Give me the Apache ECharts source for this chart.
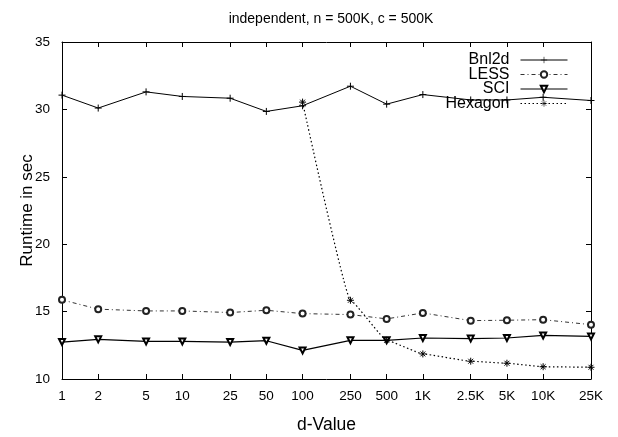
<!DOCTYPE html>
<html><head><meta charset="utf-8">
<script src="https://cdn.jsdelivr.net/npm/echarts@6/dist/echarts.min.js"></script>
<style>html,body{margin:0;padding:0;background:#fff}#c{width:618px;height:437px}</style>
</head><body><div id="c"></div>
<script>
const titleText = 'independent, n = 500K, c = 500K';
const xName = 'd-Value';
const yName = 'Runtime in sec';
const dValues = [1, 2, 5, 10, 25, 50, 100, 250, 500, 1000, 2500, 5000, 10000, 25000];
const dLabels = ['1', '2', '5', '10', '25', '50', '100', '250', '500', '1K', '2.5K', '5K', '10K', '25K'];
const seriesNames = ['Bnl2d', 'LESS', 'SCI', 'Hexagon'];
const bnl2d = [31.06, 30.10, 31.30, 30.96, 30.83, 29.85, 30.27, 31.72, 30.39, 31.10, 30.70, 30.70, 30.90, 30.66];
const less = [15.87, 15.18, 15.05, 15.05, 14.93, 15.10, 14.85, 14.78, 14.46, 14.90, 14.33, 14.36, 14.40, 14.03];
const sci = [12.74, 12.94, 12.79, 12.79, 12.74, 12.84, 12.12, 12.87, 12.87, 13.04, 13.00, 13.04, 13.23, 13.16];
const hexagon = [null, null, null, null, null, null, 30.54, 15.84, 12.87, 11.86, 11.32, 11.17, 10.91, 10.87];

function pairs(vals) {
  const out = [];
  dValues.forEach((d, i) => { if (vals[i] != null) out.push([d, vals[i]]); });
  return out;
}
const FONT = 'Liberation Sans';
const labelMap = {};
dValues.forEach((d, i) => { labelMap[d] = dLabels[i]; });
const PLUS = 'path://M0,5L10,5M5,0L5,10';
const STAR = 'path://M0,5L10,5M5,0L5,10M1.5,1.5L8.5,8.5M8.5,1.5L1.5,8.5';

function xAxisCfg(pos, show) {
  return {
    type: 'log', logBase: 10, min: 1, max: 25000, position: pos,
    name: show ? xName : '', nameLocation: 'middle', nameGap: 37, nameMoveOverlap: false,
    nameTextStyle: { fontFamily: FONT, fontSize: 17.5, color: '#000' },
    axisLine: { show: true, onZero: false, lineStyle: { color: '#000', width: 1 } },
    axisTick: { show: true, inside: true, length: 5, customValues: dValues, lineStyle: { color: '#000', width: 1 } },
    axisLabel: { show: show, customValues: dValues, formatter: v => labelMap[Math.round(v)] || '',
      fontFamily: FONT, fontSize: 13.5, color: '#000', margin: 10 },
    splitLine: { show: false }, minorTick: { show: false }, minorSplitLine: { show: false }
  };
}
function yAxisCfg(pos, show) {
  return {
    type: 'value', min: 10, max: 35, interval: 5, position: pos,
    name: show ? yName : '', nameLocation: 'middle', nameGap: 26, nameMoveOverlap: false,
    nameTextStyle: { fontFamily: FONT, fontSize: 17, color: '#000' },
    axisLine: { show: true, onZero: false, lineStyle: { color: '#000', width: 1 } },
    axisTick: { show: true, inside: true, length: 5, lineStyle: { color: '#000', width: 1 } },
    axisLabel: { show: show, fontFamily: FONT, fontSize: 13.5, color: '#000', margin: 12 },
    splitLine: { show: false }
  };
}

const chart = echarts.init(document.getElementById('c'), null, { renderer: 'canvas' });
chart.setOption({
  animation: false,
  backgroundColor: '#fff',
  title: { text: titleText, left: 326, top: 7, textAlign: 'center',
    textStyle: { fontFamily: FONT, fontSize: 14, fontWeight: 'normal', color: '#000' } },
  grid: { left: 62, right: 27, top: 42, bottom: 58, outerBoundsMode: 'none', containLabel: false },
  legend: {
    data: seriesNames, orient: 'vertical', align: 'right', right: 50, top: 52,
    itemWidth: 47, itemHeight: 8, itemGap: -1.5, padding: 0,
    lineStyle: { width: 1 },
    itemStyle: { borderWidth: 0.6 },
    textStyle: { fontFamily: FONT, fontSize: 16, color: '#000', lineHeight: 14, padding: [0, 6, 0, 0] }
  },
  xAxis: [xAxisCfg('bottom', true), xAxisCfg('top', false)],
  yAxis: [yAxisCfg('left', true), yAxisCfg('right', false)],
  series: [
    { name: seriesNames[0], type: 'line', data: pairs(bnl2d), symbol: PLUS, symbolSize: 7,
      lineStyle: { color: '#000', width: 1, type: 'solid' },
      itemStyle: { color: '#000', borderColor: '#000', borderWidth: 1 } },
    { name: seriesNames[1], type: 'line', data: pairs(less), symbol: 'emptyCircle', symbolSize: 6,
      lineStyle: { color: '#333', width: 1, type: [4, 3, 1, 3] },
      itemStyle: { color: '#222', borderColor: '#222', borderWidth: 0.6 } },
    { name: seriesNames[2], type: 'line', data: pairs(sci), symbol: 'emptyTriangle', symbolRotate: 180, symbolSize: 6,
      lineStyle: { color: '#000', width: 1.2, type: 'solid' },
      itemStyle: { color: '#000', borderColor: '#000', borderWidth: 0.6 } },
    { name: seriesNames[3], type: 'line', data: pairs(hexagon), symbol: STAR, symbolSize: 7,
      smooth: 0.1, smoothMonotone: 'x',
      lineStyle: { color: '#000', width: 1.2, type: [1.5, 2.5] },
      itemStyle: { color: '#000', borderColor: '#000', borderWidth: 1 } }
  ]
});
</script></body></html>
